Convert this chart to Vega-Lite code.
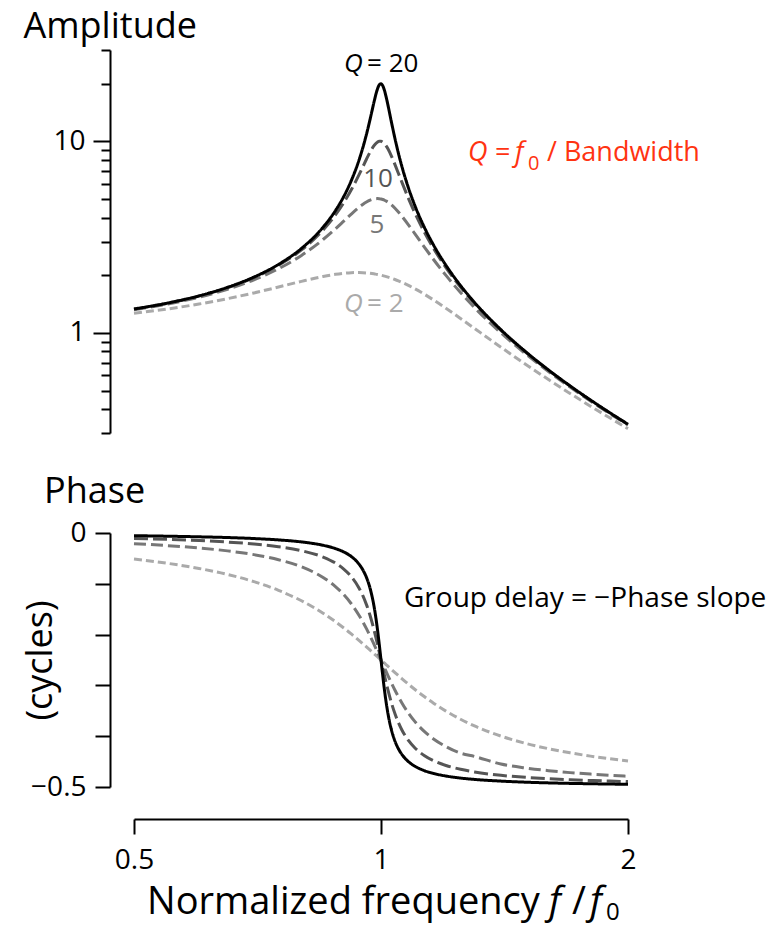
{
  "$schema": "https://vega.github.io/schema/vega-lite/v6.json",
  "background": "white",
  "padding": {"left": 21, "top": 8, "right": 5, "bottom": 0},
  "config": {
    "font": "Open Sans",
    "view": {"stroke": null},
    "axis": {
      "grid": false,
      "domainColor": "black",
      "domainWidth": 2,
      "tickColor": "black",
      "tickWidth": 2,
      "labelColor": "black",
      "labelFont": "Open Sans",
      "labelFontSize": 28,
      "titleFont": "Open Sans",
      "titleFontWeight": "normal",
      "titleColor": "black",
      "titleFontSize": 36
    },
    "title": {"font": "Open Sans", "fontWeight": "normal", "fontSize": 36, "color": "black"}
  },
  "datasets": {
    "curves": [
      {"f":0.5,"Q":2,"amp":1.2649,"ph":-0.0512},{"f":0.55,"Q":2,"amp":1.3338,"ph":-0.0598},{"f":0.6,"Q":2,"amp":1.4148,"ph":-0.0698},{"f":0.65,"Q":2,"amp":1.509,"ph":-0.0816},{"f":0.7,"Q":2,"amp":1.6167,"ph":-0.0957},{"f":0.75,"Q":2,"amp":1.7354,"ph":-0.1128},{"f":0.8,"Q":2,"amp":1.8582,"ph":-0.1334},{"f":0.85,"Q":2,"amp":1.9702,"ph":-0.1579},{"f":0.88,"Q":2,"amp":2.0224,"ph":-0.1746},{"f":0.9,"Q":2,"amp":2.0472,"ph":-0.1864},{"f":0.92,"Q":2,"amp":2.062,"ph":-0.1987},{"f":0.94,"Q":2,"amp":2.0653,"ph":-0.2114},{"f":0.95,"Q":2,"amp":2.0623,"ph":-0.2178},{"f":0.96,"Q":2,"amp":2.0561,"ph":-0.2242},{"f":0.97,"Q":2,"amp":2.0467,"ph":-0.2307},{"f":0.98,"Q":2,"amp":2.0342,"ph":-0.2372},{"f":0.985,"Q":2,"amp":2.0268,"ph":-0.2404},{"f":0.99,"Q":2,"amp":2.0186,"ph":-0.2436},{"f":0.995,"Q":2,"amp":2.0096,"ph":-0.2468},{"f":1,"Q":2,"amp":2,"ph":-0.25},{"f":1.005,"Q":2,"amp":1.9897,"ph":-0.2532},{"f":1.01,"Q":2,"amp":1.9786,"ph":-0.2563},{"f":1.015,"Q":2,"amp":1.967,"ph":-0.2595},{"f":1.02,"Q":2,"amp":1.9547,"ph":-0.2626},{"f":1.03,"Q":2,"amp":1.9283,"ph":-0.2687},{"f":1.04,"Q":2,"amp":1.8998,"ph":-0.2748},{"f":1.05,"Q":2,"amp":1.8695,"ph":-0.2807},{"f":1.06,"Q":2,"amp":1.8375,"ph":-0.2865},{"f":1.08,"Q":2,"amp":1.7697,"ph":-0.2976},{"f":1.1,"Q":2,"amp":1.6986,"ph":-0.3081},{"f":1.13,"Q":2,"amp":1.5893,"ph":-0.3225},{"f":1.16,"Q":2,"amp":1.4811,"ph":-0.3355},{"f":1.2,"Q":2,"amp":1.344,"ph":-0.3507},{"f":1.25,"Q":2,"amp":1.1893,"ph":-0.3666},{"f":1.3,"Q":2,"amp":1.0549,"ph":-0.3798},{"f":1.4,"Q":2,"amp":0.8417,"ph":-0.3997},{"f":1.5,"Q":2,"amp":0.686,"ph":-0.414},{"f":1.6,"Q":2,"amp":0.5704,"ph":-0.4246},{"f":1.7,"Q":2,"amp":0.4826,"ph":-0.4327},{"f":1.8,"Q":2,"amp":0.4142,"ph":-0.4392},{"f":1.9,"Q":2,"amp":0.36,"ph":-0.4444},{"f":2,"Q":2,"amp":0.3162,"ph":-0.4488},
      {"f":0.5,"Q":5,"amp":1.3216,"ph":-0.0211},{"f":0.55,"Q":5,"amp":1.4162,"ph":-0.0249},{"f":0.6,"Q":5,"amp":1.5357,"ph":-0.0295},{"f":0.65,"Q":5,"amp":1.6893,"ph":-0.0352},{"f":0.7,"Q":5,"amp":1.8908,"ph":-0.0426},{"f":0.75,"Q":5,"amp":2.1622,"ph":-0.0526},{"f":0.8,"Q":5,"amp":2.5384,"ph":-0.0666},{"f":0.85,"Q":5,"amp":3.0728,"ph":-0.0875},{"f":0.88,"Q":5,"amp":3.4949,"ph":-0.1054},{"f":0.9,"Q":5,"amp":3.8208,"ph":-0.1207},{"f":0.92,"Q":5,"amp":4.1721,"ph":-0.1393},{"f":0.94,"Q":5,"amp":4.5225,"ph":-0.1618},{"f":0.95,"Q":5,"amp":4.6826,"ph":-0.1745},{"f":0.96,"Q":5,"amp":4.8218,"ph":-0.1883},{"f":0.97,"Q":5,"amp":4.9309,"ph":-0.2029},{"f":0.98,"Q":5,"amp":5.001,"ph":-0.2183},{"f":0.985,"Q":5,"amp":5.0191,"ph":-0.2261},{"f":0.99,"Q":5,"amp":5.0251,"ph":-0.2341},{"f":0.995,"Q":5,"amp":5.0188,"ph":-0.242},{"f":1,"Q":5,"amp":5,"ph":-0.25},{"f":1.005,"Q":5,"amp":4.969,"ph":-0.2579},{"f":1.01,"Q":5,"amp":4.9261,"ph":-0.2658},{"f":1.015,"Q":5,"amp":4.8723,"ph":-0.2735},{"f":1.02,"Q":5,"amp":4.8086,"ph":-0.2811},{"f":1.03,"Q":5,"amp":4.6552,"ph":-0.2958},{"f":1.04,"Q":5,"amp":4.4756,"ph":-0.3095},{"f":1.05,"Q":5,"amp":4.2794,"ph":-0.3223},{"f":1.06,"Q":5,"amp":4.075,"ph":-0.334},{"f":1.08,"Q":5,"amp":3.6675,"ph":-0.3545},{"f":1.1,"Q":5,"amp":3.288,"ph":-0.3713},{"f":1.13,"Q":5,"amp":2.7978,"ph":-0.3911},{"f":1.16,"Q":5,"amp":2.4024,"ph":-0.4059},{"f":1.2,"Q":5,"amp":1.9952,"ph":-0.4205},{"f":1.25,"Q":5,"amp":1.6246,"ph":-0.4334},{"f":1.3,"Q":5,"amp":1.3562,"ph":-0.4399},{"f":1.4,"Q":5,"amp":1.0,"ph":-0.4548},{"f":1.5,"Q":5,"amp":0.7779,"ph":-0.4625},{"f":1.6,"Q":5,"amp":0.628,"ph":-0.4678},{"f":1.7,"Q":5,"amp":0.5207,"ph":-0.4717},{"f":1.8,"Q":5,"amp":0.4408,"ph":-0.4746},{"f":1.9,"Q":5,"amp":0.3791,"ph":-0.477},{"f":2,"Q":5,"amp":0.3304,"ph":-0.4789},
      {"f":0.5,"Q":10,"amp":1.3304,"ph":-0.0106},{"f":0.55,"Q":10,"amp":1.4293,"ph":-0.0125},{"f":0.6,"Q":10,"amp":1.5557,"ph":-0.0149},{"f":0.65,"Q":10,"amp":1.7207,"ph":-0.0178},{"f":0.7,"Q":10,"amp":1.9426,"ph":-0.0217},{"f":0.75,"Q":10,"amp":2.2528,"ph":-0.027},{"f":0.8,"Q":10,"amp":2.7116,"ph":-0.0348},{"f":0.85,"Q":10,"amp":3.4456,"ph":-0.0473},{"f":0.88,"Q":10,"amp":4.1295,"ph":-0.0592},{"f":0.9,"Q":10,"amp":4.7565,"ph":-0.0704},{"f":0.92,"Q":10,"amp":5.5852,"ph":-0.0859},{"f":0.94,"Q":10,"amp":6.6837,"ph":-0.1081},{"f":0.95,"Q":10,"amp":7.346,"ph":-0.1229},{"f":0.96,"Q":10,"amp":8.0679,"ph":-0.141},{"f":0.97,"Q":10,"amp":8.8037,"ph":-0.1629},{"f":0.98,"Q":10,"amp":9.4609,"ph":-0.1889},{"f":0.985,"Q":10,"amp":9.718,"ph":-0.2033},{"f":0.99,"Q":10,"amp":9.903,"ph":-0.2184},{"f":0.995,"Q":10,"amp":10.0,"ph":-0.2341},{"f":1,"Q":10,"amp":10,"ph":-0.25},{"f":1.005,"Q":10,"amp":9.9012,"ph":-0.2658},{"f":1.01,"Q":10,"amp":9.7106,"ph":-0.2813},{"f":1.015,"Q":10,"amp":9.4424,"ph":-0.2961},{"f":1.02,"Q":10,"amp":9.1149,"ph":-0.31},{"f":1.03,"Q":10,"amp":8.3571,"ph":-0.335},{"f":1.04,"Q":10,"amp":7.5648,"ph":-0.3559},{"f":1.05,"Q":10,"amp":6.8149,"ph":-0.3731},{"f":1.06,"Q":10,"amp":6.1415,"ph":-0.3872},{"f":1.08,"Q":10,"amp":5.0408,"ph":-0.4084},{"f":1.1,"Q":10,"amp":4.2183,"ph":-0.4232},{"f":1.13,"Q":10,"amp":3.3437,"ph":-0.4383},{"f":1.16,"Q":10,"amp":2.7431,"ph":-0.4485},{"f":1.2,"Q":10,"amp":2.1926,"ph":-0.4576},{"f":1.25,"Q":10,"amp":1.7354,"ph":-0.4652},{"f":1.3,"Q":10,"amp":1.4242,"ph":-0.4704},{"f":1.4,"Q":10,"amp":1.0308,"ph":-0.477},{"f":1.5,"Q":10,"amp":0.7943,"ph":-0.481},{"f":1.6,"Q":10,"amp":0.6377,"ph":-0.4837},{"f":1.7,"Q":10,"amp":0.527,"ph":-0.4857},{"f":1.8,"Q":10,"amp":0.445,"ph":-0.4872},{"f":1.9,"Q":10,"amp":0.3821,"ph":-0.4884},{"f":2,"Q":10,"amp":0.3326,"ph":-0.4894},
      {"f":0.5,"Q":20,"amp":1.3326,"ph":-0.0053},{"f":0.55,"Q":20,"amp":1.4326,"ph":-0.0063},{"f":0.6,"Q":20,"amp":1.5608,"ph":-0.0075},{"f":0.65,"Q":20,"amp":1.7289,"ph":-0.0089},{"f":0.7,"Q":20,"amp":1.9562,"ph":-0.0109},{"f":0.75,"Q":20,"amp":2.2773,"ph":-0.0136},{"f":0.8,"Q":20,"amp":2.7608,"ph":-0.0176},{"f":0.85,"Q":20,"amp":3.5621,"ph":-0.0242},{"f":0.88,"Q":20,"amp":4.3507,"ph":-0.0307},{"f":0.9,"Q":20,"amp":5.1214,"ph":-0.037},{"f":0.92,"Q":20,"amp":6.2367,"ph":-0.0463},{"f":0.94,"Q":20,"amp":7.9662,"ph":-0.0611},{"f":0.95,"Q":20,"amp":9.2201,"ph":-0.0722},{"f":0.96,"Q":20,"amp":10.878,"ph":-0.0874},{"f":0.97,"Q":20,"amp":13.08,"ph":-0.1094},{"f":0.98,"Q":20,"amp":15.873,"ph":-0.1418},{"f":0.985,"Q":20,"amp":17.376,"ph":-0.1635},{"f":0.99,"Q":20,"amp":18.744,"ph":-0.1892},{"f":0.995,"Q":20,"amp":19.708,"ph":-0.2185},{"f":1,"Q":20,"amp":20,"ph":-0.25},{"f":1.005,"Q":20,"amp":19.516,"ph":-0.2813},{"f":1.01,"Q":20,"amp":18.398,"ph":-0.3103},{"f":1.015,"Q":20,"amp":16.929,"ph":-0.3355},{"f":1.02,"Q":20,"amp":15.37,"ph":-0.3566},{"f":1.03,"Q":20,"amp":12.538,"ph":-0.3883},{"f":1.04,"Q":20,"amp":10.335,"ph":-0.4097},{"f":1.05,"Q":20,"amp":8.6835,"ph":-0.4247},{"f":1.06,"Q":20,"amp":7.4357,"ph":-0.4355},{"f":1.08,"Q":20,"amp":5.7162,"ph":-0.4501},{"f":1.1,"Q":20,"amp":4.6065,"ph":-0.4592},{"f":1.13,"Q":20,"amp":3.5385,"ph":-0.468},{"f":1.16,"Q":20,"amp":2.8536,"ph":-0.4735},{"f":1.2,"Q":20,"amp":2.2519,"ph":-0.4784},{"f":1.25,"Q":20,"amp":1.7669,"ph":-0.4824},{"f":1.3,"Q":20,"amp":1.4429,"ph":-0.4851},{"f":1.4,"Q":20,"amp":1.0389,"ph":-0.4884},{"f":1.5,"Q":20,"amp":0.7986,"ph":-0.4905},{"f":1.6,"Q":20,"amp":0.6402,"ph":-0.4919},{"f":1.7,"Q":20,"amp":0.5286,"ph":-0.4929},{"f":1.8,"Q":20,"amp":0.4461,"ph":-0.4936},{"f":1.9,"Q":20,"amp":0.3829,"ph":-0.4942},{"f":2,"Q":20,"amp":0.3332,"ph":-0.4947}
    ]
  },
  "spacing": 100,
  "bounds": "flush",
  "vconcat": [
    {
      "width": 494,
      "height": 383,
      "layer": [
        {
          "data": {"name": "curves"},
          "mark": {"type": "line", "strokeWidth": 3, "interpolate": "monotone"},
          "encoding": {
            "x": {"field": "f", "type": "quantitative", "scale": {"type": "log", "domain": [0.5, 2], "nice": false}, "axis": null},
            "y": {
              "field": "amp", "type": "quantitative",
              "scale": {"type": "log", "domain": [0.3, 30], "nice": false},
              "axis": {
                "offset": 24,
                "values": [0.3,0.4,0.5,0.6,0.7,0.8,0.9,1,2,3,4,5,6,7,8,9,10,20,30],
                "labelExpr": "datum.value == 1 ? '1' : datum.value == 10 ? '10' : ''",
                "tickSize": {"condition": {"test": "datum.value == 1 || datum.value == 10", "value": 17}, "value": 9},
                "labelPadding": 8,
                "title": "Amplitude",
                "titleAngle": 0,
                "titleAlign": "left",
                "titleBaseline": "alphabetic",
                "titleX": -87,
                "titleY": -13
              }
            },
            "color": {"field": "Q", "type": "ordinal", "scale": {"domain": [2,5,10,20], "range": ["#aaaaaa","#777777","#555555","#000000"]}, "legend": null},
            "strokeDash": {"field": "Q", "type": "ordinal", "scale": {"domain": [2,5,10,20], "range": [[8,4],[12,5],[14,5],[1,0]]}, "legend": null}
          }
        },
        {
          "data": {"values": [{"f":0.9014,"amp":22.9,"t":"Q","Q":20},{"f":0.9014,"amp":1.283,"t":"Q","Q":2}]},
          "mark": {"type": "text", "fontSize": 26, "fontStyle": "italic", "align": "left", "baseline": "alphabetic"},
          "encoding": {
            "x": {"field": "f", "type": "quantitative", "scale": {"type": "log", "domain": [0.5, 2], "nice": false}},
            "y": {"field": "amp", "type": "quantitative", "scale": {"type": "log", "domain": [0.3, 30], "nice": false}},
            "text": {"field": "t"},
            "color": {"field": "Q", "type": "ordinal", "legend": null}
          }
        },
        {
          "data": {"values": [{"f":0.9615,"amp":22.9,"t":"= 20","Q":20},{"f":0.9615,"amp":1.283,"t":"= 2","Q":2}]},
          "mark": {"type": "text", "fontSize": 26, "align": "left", "baseline": "alphabetic"},
          "encoding": {
            "x": {"field": "f", "type": "quantitative", "scale": {"type": "log", "domain": [0.5, 2], "nice": false}},
            "y": {"field": "amp", "type": "quantitative", "scale": {"type": "log", "domain": [0.3, 30], "nice": false}},
            "text": {"field": "t"},
            "color": {"field": "Q", "type": "ordinal", "legend": null}
          }
        },
        {
          "data": {"values": [{"f":0.9916,"amp":5.79,"t":"10","Q":10},{"f":0.9888,"amp":3.327,"t":"5","Q":5}]},
          "mark": {"type": "text", "fontSize": 26, "align": "center", "baseline": "alphabetic"},
          "encoding": {
            "x": {"field": "f", "type": "quantitative", "scale": {"type": "log", "domain": [0.5, 2], "nice": false}},
            "y": {"field": "amp", "type": "quantitative", "scale": {"type": "log", "domain": [0.3, 30], "nice": false}},
            "text": {"field": "t"},
            "color": {"field": "Q", "type": "ordinal", "legend": null}
          }
        },
        {
          "data": {"values": [{"f":1.2765,"amp":7.93,"t":"Q"},{"f":1.4565,"amp":7.93,"t":"f"}]},
          "mark": {"type": "text", "fontSize": 27, "fontStyle": "italic", "align": "left", "baseline": "alphabetic", "color": "#ff3311"},
          "encoding": {
            "x": {"field": "f", "type": "quantitative", "scale": {"type": "log", "domain": [0.5, 2], "nice": false}},
            "y": {"field": "amp", "type": "quantitative", "scale": {"type": "log", "domain": [0.3, 30], "nice": false}},
            "text": {"field": "t"}
          }
        },
        {
          "data": {"values": [{"f":1.377,"amp":7.93,"t":"="},{"f":1.5933,"amp":7.93,"t":"/ Bandwidth"}]},
          "mark": {"type": "text", "fontSize": 27, "align": "left", "baseline": "alphabetic", "color": "#ff3311"},
          "encoding": {
            "x": {"field": "f", "type": "quantitative", "scale": {"type": "log", "domain": [0.5, 2], "nice": false}},
            "y": {"field": "amp", "type": "quantitative", "scale": {"type": "log", "domain": [0.3, 30], "nice": false}},
            "text": {"field": "t"}
          }
        },
        {
          "data": {"values": [{"f":1.5106,"amp":7.11,"t":"0"}]},
          "mark": {"type": "text", "fontSize": 20, "align": "left", "baseline": "alphabetic", "color": "#ff3311"},
          "encoding": {
            "x": {"field": "f", "type": "quantitative", "scale": {"type": "log", "domain": [0.5, 2], "nice": false}},
            "y": {"field": "amp", "type": "quantitative", "scale": {"type": "log", "domain": [0.3, 30], "nice": false}},
            "text": {"field": "t"}
          }
        }
      ]
    },
    {
      "width": 494,
      "height": 254,
      "title": {"text": "Phase", "anchor": "start", "frame": "group", "dx": -90, "baseline": "alphabetic", "offset": -20},
      "layer": [
        {
          "data": {"name": "curves"},
          "mark": {"type": "line", "strokeWidth": 3, "interpolate": "monotone"},
          "encoding": {
            "x": {
              "field": "f", "type": "quantitative",
              "scale": {"type": "log", "domain": [0.5, 2], "nice": false},
              "axis": {"offset": 32, "values": [0.5, 1, 2], "format": "~g", "tickSize": 15, "labelPadding": 12, "labelFlush": false, "title": null}
            },
            "y": {
              "field": "ph", "type": "quantitative",
              "scale": {"domain": [-0.5, 0], "nice": false, "zero": false},
              "axis": {
                "offset": 24,
                "values": [-0.5,-0.4,-0.3,-0.2,-0.1,0],
                "labelExpr": "datum.value == 0 ? '0' : datum.value == -0.5 ? '\u22120.5' : ''",
                "tickSize": 15,
                "labelPadding": 9,
                "title": "(cycles)",
                "titleAngle": -90,
                "titleAlign": "center",
                "titleBaseline": "alphabetic",
                "titleX": -59,
                "titleY": 127
              }
            },
            "color": {"field": "Q", "type": "ordinal", "scale": {"domain": [2,5,10,20], "range": ["#aaaaaa","#777777","#555555","#000000"]}, "legend": null},
            "strokeDash": {"field": "Q", "type": "ordinal", "scale": {"domain": [2,5,10,20], "range": [[8,4],[12,5],[14,5],[1,0]]}, "legend": null}
          }
        },
        {
          "data": {"values": [{"f":1.0667,"ph":-0.1457,"t":"Group delay = \u2212Phase slope"}]},
          "mark": {"type": "text", "fontSize": 28, "align": "left", "baseline": "alphabetic", "color": "black"},
          "encoding": {
            "x": {"field": "f", "type": "quantitative", "scale": {"type": "log", "domain": [0.5, 2], "nice": false}},
            "y": {"field": "ph", "type": "quantitative", "scale": {"domain": [-0.5, 0], "nice": false, "zero": false}},
            "text": {"field": "t"}
          }
        },
        {
          "data": {"values": [{"f":0.5186,"ph":-0.75,"t":"Normalized frequency"},{"f":1.7091,"ph":-0.75,"t":"/"}]},
          "mark": {"type": "text", "fontSize": 38, "align": "left", "baseline": "alphabetic", "color": "black"},
          "encoding": {
            "x": {"field": "f", "type": "quantitative", "scale": {"type": "log", "domain": [0.5, 2], "nice": false}},
            "y": {"field": "ph", "type": "quantitative", "scale": {"domain": [-0.5, 0], "nice": false, "zero": false}},
            "text": {"field": "t"}
          }
        },
        {
          "data": {"values": [{"f":1.6023,"ph":-0.75,"t":"f"},{"f":1.7975,"ph":-0.75,"t":"f"}]},
          "mark": {"type": "text", "fontSize": 38, "fontStyle": "italic", "align": "left", "baseline": "alphabetic", "color": "black"},
          "encoding": {
            "x": {"field": "f", "type": "quantitative", "scale": {"type": "log", "domain": [0.5, 2], "nice": false}},
            "y": {"field": "ph", "type": "quantitative", "scale": {"domain": [-0.5, 0], "nice": false, "zero": false}},
            "text": {"field": "t"}
          }
        },
        {
          "data": {"values": [{"f":1.8803,"ph":-0.7618,"t":"0"}]},
          "mark": {"type": "text", "fontSize": 24, "align": "left", "baseline": "alphabetic", "color": "black"},
          "encoding": {
            "x": {"field": "f", "type": "quantitative", "scale": {"type": "log", "domain": [0.5, 2], "nice": false}},
            "y": {"field": "ph", "type": "quantitative", "scale": {"domain": [-0.5, 0], "nice": false, "zero": false}},
            "text": {"field": "t"}
          }
        }
      ]
    }
  ]
}
